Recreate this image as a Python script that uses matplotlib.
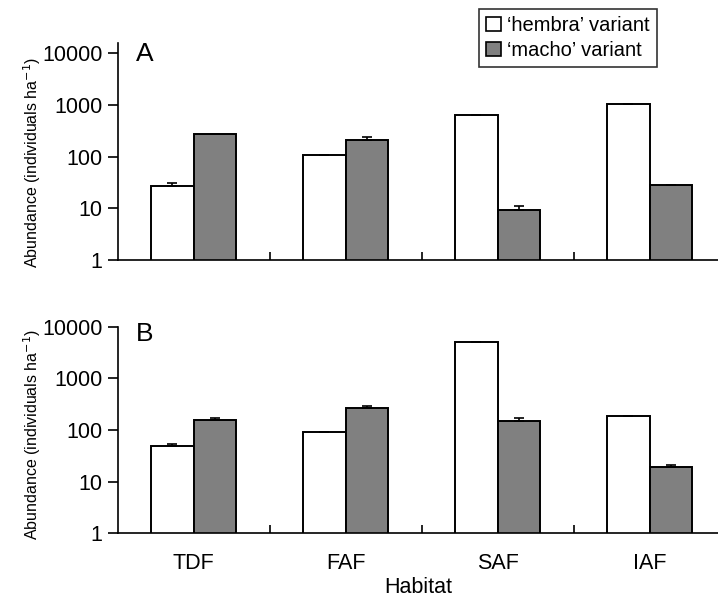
import matplotlib.pyplot as plt
import numpy as np
from matplotlib.patches import Patch
from matplotlib.ticker import FixedLocator, FixedFormatter

plt.rcParams['font.family'] = ['Liberation Sans', 'DejaVu Sans']

# Data
habitats = ["TDF", "FAF", "SAF", "IAF"]
hembra_a = [27, 109, 640, 1030]
hembra_a_err = [4, 0, 0, 0]
macho_a = [270, 210, 9.4, 28.7]
macho_a_err = [0, 34, 1.5, 0]
hembra_b = [49, 90, 4980, 184]
hembra_b_err = [5, 0, 0, 0]
macho_b = [156, 267, 152, 19.2]
macho_b_err = [17, 28, 19, 1.8]

labels = ["\u2018hembra\u2019 variant", "\u2018macho\u2019 variant"]
yticks = [1, 10, 100, 1000, 10000]

fig = plt.figure(figsize=(7.18, 6), dpi=100)
ax_a = fig.add_axes([0.164, 0.5667, 0.836, 0.361])
ax_b = fig.add_axes([0.164, 0.111, 0.836, 0.3445])

x = np.arange(len(habitats))
w = 0.28


def draw_panel(ax, hem, hem_err, mac, mac_err, letter, ytop, letter_y, label_y):
    ax.bar(x - w / 2, hem, w, color="white", edgecolor="black", linewidth=1.4,
           yerr=[np.zeros(4), hem_err], capsize=3.5,
           error_kw=dict(elinewidth=1.2, capthick=1.2, ecolor="black"))
    ax.bar(x + w / 2, mac, w, color="#808080", edgecolor="black", linewidth=1.4,
           yerr=[np.zeros(4), mac_err], capsize=3.5,
           error_kw=dict(elinewidth=1.2, capthick=1.2, ecolor="black"))
    ax.set_yscale("log")
    ax.set_ylim(1, ytop)
    ax.set_xlim(-0.5, 3.45)
    ax.yaxis.set_major_locator(FixedLocator(yticks))
    ax.yaxis.set_major_formatter(FixedFormatter([str(t) for t in yticks]))
    ax.yaxis.set_minor_locator(FixedLocator([]))
    ax.tick_params(axis="y", which="major", direction="out", length=7, width=1.2,
                   labelsize=15.5, pad=4)
    ax.set_xticks(x)
    ax.set_xticks([0.5, 1.5, 2.5], minor=True)
    ax.tick_params(axis="x", which="major", length=0, labelsize=15.5, pad=14)
    ax.tick_params(axis="x", which="minor", direction="in", length=6, width=1.2)
    for s in ["top", "right"]:
        ax.spines[s].set_visible(False)
    for s in ["left", "bottom"]:
        ax.spines[s].set_linewidth(1.2)
    ax.set_ylabel("Abundance (individuals ha$^{-1}$)", fontsize=11.5)
    ax.yaxis.set_label_coords(-0.125, label_y)
    ax.text(0.03, letter_y, letter, transform=ax.transAxes, fontsize=19,
            va="center")


draw_panel(ax_a, hembra_a, hembra_a_err, macho_a, macho_a_err, "A",
           10 ** 4.19, 0.95, 0.45)
draw_panel(ax_b, hembra_b, hembra_b_err, macho_b, macho_b_err, "B",
           10000, 0.965, 0.48)

ax_a.set_xticklabels([])
ax_b.set_xticklabels(habitats)
ax_b.set_xlabel("Habitat", fontsize=15.5, labelpad=2)

handles = [Patch(facecolor="white", edgecolor="black", linewidth=1.2),
           Patch(facecolor="#808080", edgecolor="black", linewidth=1.2)]
leg = fig.legend(handles, labels, loc="upper left", bbox_to_anchor=(0.667, 0.985),
                 fontsize=14.5, frameon=True, fancybox=False, edgecolor="black",
                 handlelength=0.75, handleheight=0.75, handletextpad=0.3,
                 borderpad=0.35, labelspacing=0.3, borderaxespad=0)
leg.get_frame().set_linewidth(1.2)

fig.savefig("out.png", dpi=100)
